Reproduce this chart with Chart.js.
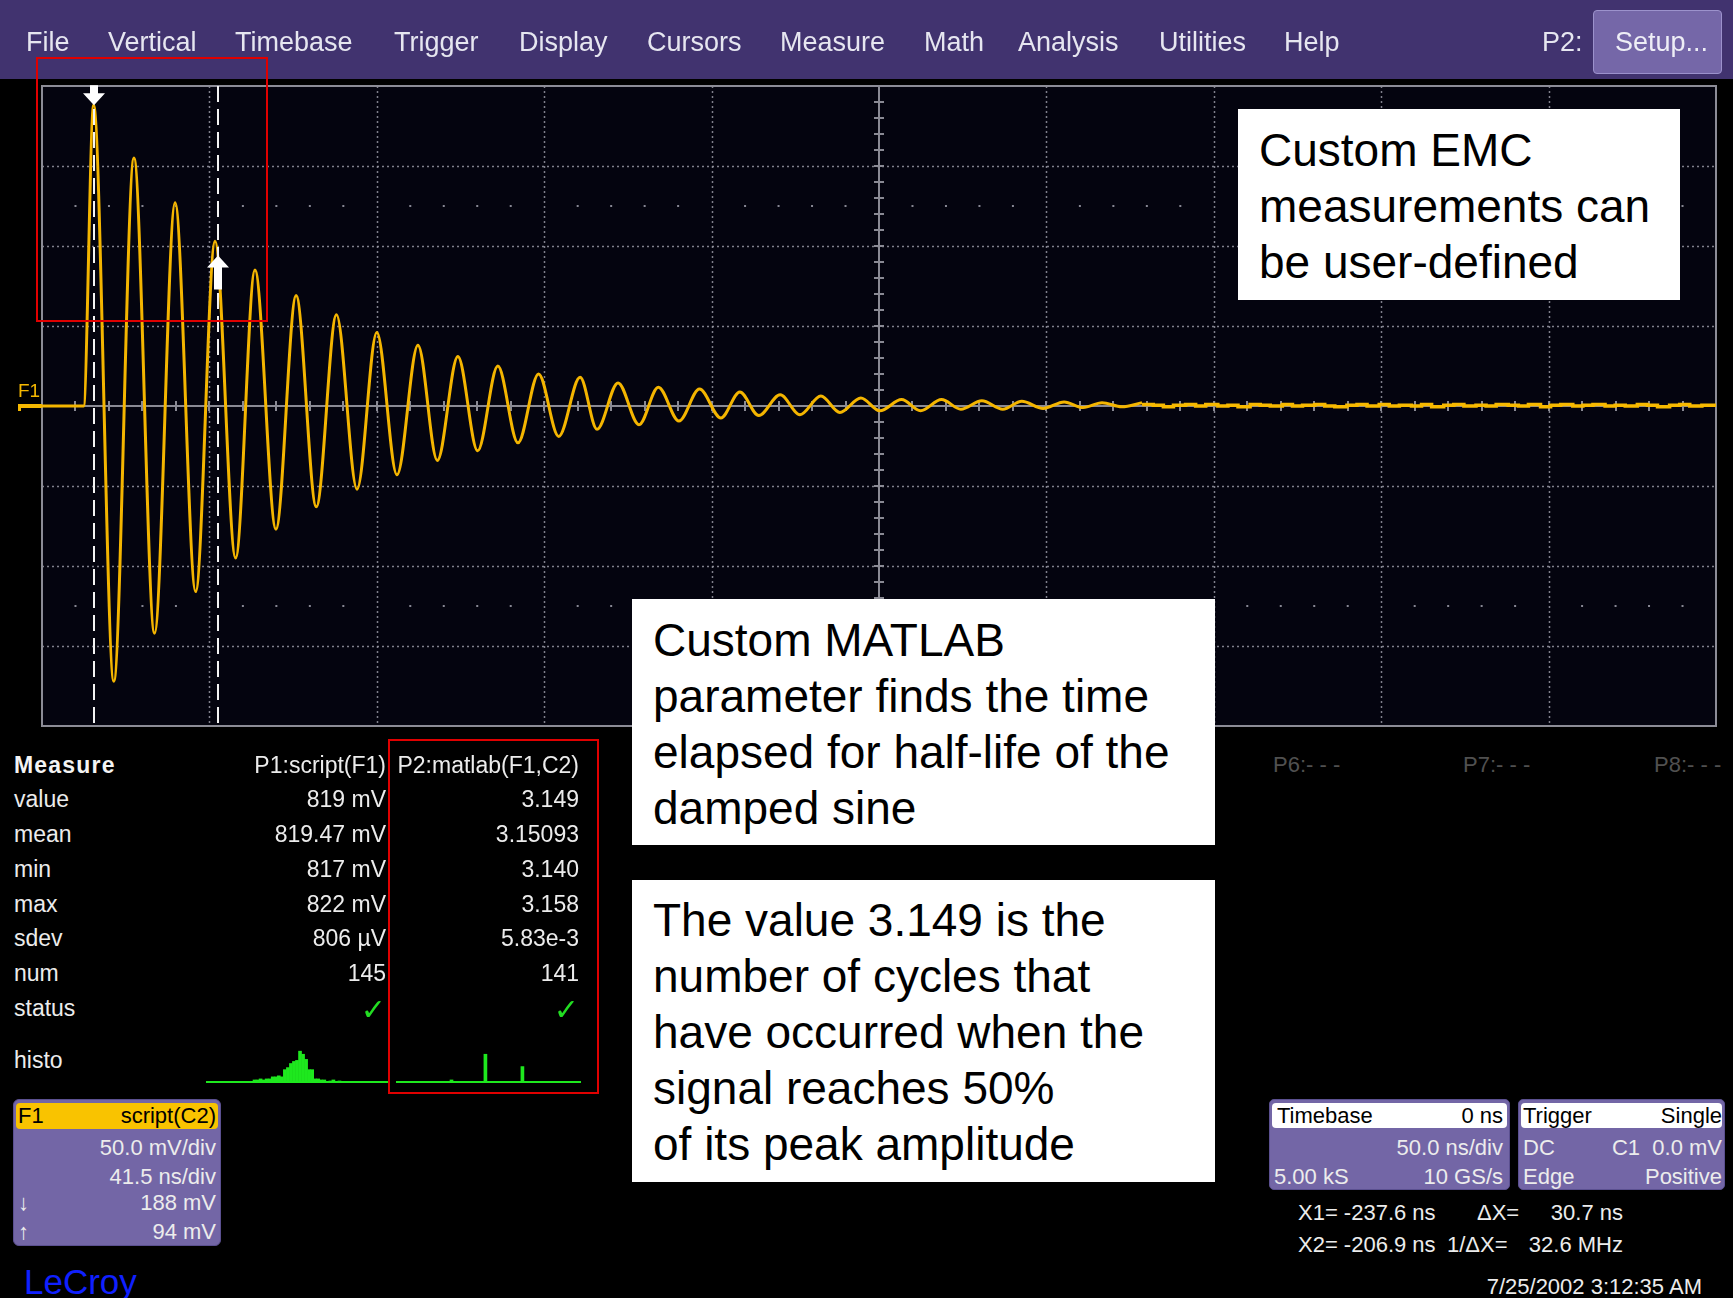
<!DOCTYPE html>
<html>
<head>
<meta charset="utf-8">
<title>F1 script(C2) - damped sine</title>
<script src="https://cdn.jsdelivr.net/npm/chart.js@4.4.1/dist/chart.umd.min.js"></script>
<style>
  html, body { margin: 0; padding: 0; background: #000; }
  #scr { position: relative; width: 1733px; height: 1298px; overflow: hidden; background: #000;
         font-family: "Liberation Sans", Arial, Helvetica, sans-serif; }
  #menubar { position: absolute; left: 0; top: 0; width: 1733px; height: 79px; background: #41336f; }
  #setup { position: absolute; left: 1593px; top: 10px; width: 129px; height: 64px; box-sizing: border-box;
           background: #7567a8; border: 1px solid #9c92cc; border-radius: 4px; }
  canvas { position: absolute; }
  .t { position: absolute; white-space: pre; line-height: 30px; height: 30px; }
  .box { position: absolute; box-sizing: border-box; background: #7366a6; border: 1px solid #5b5090; border-radius: 6px; }
  .hdr { position: absolute; box-sizing: border-box; border-radius: 4px; }
  .note { position: absolute; box-sizing: border-box; background: #fff; color: #000;
          font-size: 46px; line-height: 56px; white-space: nowrap; }
  .red { position: absolute; box-sizing: border-box; border: 2px solid #e00000; }
</style>
</head>
<body>
<div id="scr">
  <div id="menubar"></div>
  <div id="setup"></div>
  <canvas id="scope" width="1733" height="660" style="left:0;top:80px"></canvas>
  <canvas id="histP1" width="182" height="38" style="left:206px;top:1045px"></canvas>
  <canvas id="histP2" width="185" height="38" style="left:396px;top:1045px"></canvas>

  <div class="box" style="left:13px;top:1099px;width:208px;height:147px"></div>
  <div class="hdr" style="left:16px;top:1103px;width:202px;height:26px;background:#f9c300"></div>
  <div class="box" style="left:1269px;top:1099px;width:241px;height:91px;border-radius:5px"></div>
  <div class="hdr" style="left:1272px;top:1103px;width:235px;height:25px;background:#fff"></div>
  <div class="box" style="left:1518px;top:1099px;width:207px;height:91px;border-radius:5px"></div>
  <div class="hdr" style="left:1521px;top:1103px;width:201px;height:25px;background:#fff"></div>

  <div class="note" style="left:1238px;top:109px;width:442px;height:191px;padding:13px 0 0 21px">Custom EMC<br>measurements can<br>be user-defined</div>
  <div class="note" style="left:632px;top:599px;width:583px;height:246px;padding:13px 0 0 21px">Custom MATLAB<br>parameter finds the time<br>elapsed for half-life of the<br>damped sine</div>
  <div class="note" style="left:632px;top:880px;width:583px;height:302px;padding:12px 0 0 21px">The value 3.149 is the<br>number of cycles that<br>have occurred when the<br>signal reaches 50%<br>of its peak amplitude</div>

  <div class="red" style="left:36px;top:57px;width:232px;height:265px"></div>
  <div class="red" style="left:388px;top:739px;width:211px;height:355px"></div>
</div>

<script>
// F1 trace scale (from the F1 descriptor box)
const NS_PER_DIV = 41.5;
const MV_PER_DIV = 50;
const X_MIN = -250.5;   // ns at the left edge of the grid

// damped ringing: start, then alternating peaks/troughs (ns, mV)
const ringTimes = [-250.5, -240.2, -237.7, -232.7, -227.7, -222.6, -217.5, -212.4, -207.6, -202.5,
  -197.7, -192.5, -187.5, -182.5, -177.5, -172.4, -167.5, -162.5, -157.3, -152.5,
  -147.4, -142.5, -137.5, -132.5, -127.4, -122.4, -117.1, -112.9, -107.7, -102.5,
  -97.7, -92.6, -87.5, -82.2, -77.5, -72.8, -67.5, -62.6, -57.4, -52.7,
  -47.5, -42.8, -37.4, -32.7, -27.5, -22.7, -17.5, -12.3, -7.6, -2.3,
  2.9, 7.6, 12.3, 17.2, 22.2];
const ringValues = [0, 0, 188, -172, 155, -142, 127, -116, 103, -95,
  85, -77, 69, -63, 57, -52, 46, -43, 38, -34,
  31, -28, 25, -23, 20, -19, 18, -14.5, 14.4, -11.7,
  11.7, -9.4, 10.6, -7.5, 8.8, -6, 7, -5.4, 6.2, -4,
  5, -3, 4, -3, 4, -2, 3.3, -2, 3, -1.5,
  2.5, -1, 2, -0.5, 2];

// settled tail with sample noise (ns, mV)
const tailTimes = [22.2, 25, 27.5, 30, 33, 35.5, 38, 41, 43.5, 46, 49, 51.5, 54, 57, 59.5, 62,
  65, 67.5, 70, 73, 75.5, 78, 81, 83.5, 86, 89, 91.5, 94, 97, 99.5, 102, 105,
  107.5, 110, 113, 115.5, 118, 121, 123.5, 126, 129, 131.5, 134, 137, 139.5, 142,
  145, 147.5, 150, 153, 155.5, 158, 161, 164.5];
const tailValues = [1, 0.5, -0.5, 0.5, 1, 0, 1, 0, 0.5, -0.5, 1, 0.5, 0, 1, 0, 0.5,
  1, 0, -0.5, 0.5, 1, 0, 1, 0, 0.5, 0, 1, -0.5, 0.5, 1, 0, 0.5,
  0, 1, 0.5, 0, 1, -0.5, 0.5, 1, 0, 0.5, 1, 0, 0.5, 0, 1, 0.5,
  -0.5, 0.5, 1, 0, 0.5, 0.5];

// cursors: X1 / X2 times and the levels they read
const cursorTimes = [-237.6, -206.9];
const cursorLevels = [188, 94];

// parameter histograms (bin index, count)
const histP1Bins = [16, 17, 18, 19, 20, 21, 22, 23, 24, 25, 26, 27, 28, 29, 30, 31, 32, 33, 34, 35, 36, 37, 38, 39, 41, 42, 44];
const histP1Counts = [2, 2, 3, 2, 3, 3, 5, 5, 6, 5, 12, 14, 18, 20, 21, 30, 27, 22, 12, 12, 3, 3, 2, 2, 1, 2, 1];
const histP2Bins = [18, 29, 41];
const histP2Counts = [2, 27, 15];

// UI text
const menuItems = ['File', 'Vertical', 'Timebase', 'Trigger', 'Display', 'Cursors', 'Measure', 'Math', 'Analysis', 'Utilities', 'Help'];
const menuX = [26, 108, 235, 394, 519, 647, 780, 924, 1018, 1159, 1284];
const measureRows = ['value', 'mean', 'min', 'max', 'sdev', 'num', 'status'];
const p1Values = ['819 mV', '819.47 mV', '817 mV', '822 mV', '806 \u00b5V', '145', '\u2713'];
const p2Values = ['3.149', '3.15093', '3.140', '3.158', '5.83e-3', '141', '\u2713'];
const rowY = [799, 834, 869, 904, 938, 973, 1008];

const scr = document.getElementById('scr');
function put(text, x, y, o) {
  o = o || {};
  const el = document.createElement('div');
  el.className = 't';
  el.textContent = text;
  el.style.top = (y - 15) + 'px';
  if (o.right) el.style.right = (1733 - x) + 'px'; else el.style.left = x + 'px';
  el.style.fontSize = (o.size || 22) + 'px';
  el.style.color = o.color || '#ececec';
  if (o.bold) el.style.fontWeight = 'bold';
  if (o.ls) el.style.letterSpacing = o.ls + 'px';
  if (o.font) el.style.fontFamily = o.font;
  scr.appendChild(el);
  return el;
}

// menu
menuItems.forEach((m, i) => put(m, menuX[i], 42, { size: 27, color: '#e6e6f0' }));
put('P2:', 1542, 42, { size: 27, color: '#e6e6f0' });
put('Setup...', 1615, 42, { size: 27, color: '#eeeef6' });

// trace label
put('F1', 18, 391, { size: 19, color: '#f5b800' });

// measure table
put('Measure', 14, 765, { size: 23, bold: true, ls: 1.2, color: '#f4f4f4' });
put('P1:script(F1)', 386, 765, { size: 23, right: true });
put('P2:matlab(F1,C2)', 579, 765, { size: 23, right: true });
measureRows.forEach((r, i) => {
  put(r, 14, rowY[i], { size: 23 });
  const ok = measureRows[i] === 'status';
  const opt = ok ? { size: 30, right: true, bold: true, color: '#22dd22', font: 'DejaVu Sans' } : { size: 23, right: true };
  put(p1Values[i], 386, rowY[i] + (ok ? 2 : 0), opt);
  put(p2Values[i], 579, rowY[i] + (ok ? 2 : 0), opt);
});
put('histo', 14, 1060, { size: 23 });
put('P6:- - -', 1273, 765, { size: 22, color: '#505050' });
put('P7:- - -', 1463, 765, { size: 22, color: '#505050' });
put('P8:- - -', 1654, 765, { size: 22, color: '#505050' });

// F1 descriptor
put('F1', 18, 1116, { color: '#000' });
put('script(C2)', 216, 1116, { color: '#000', right: true });
put('50.0 mV/div', 216, 1148, { right: true });
put('41.5 ns/div', 216, 1177, { right: true });
put('\u2193', 18, 1203);
put('188 mV', 216, 1203, { right: true });
put('\u2191', 18, 1232);
put('94 mV', 216, 1232, { right: true });
put('LeCroy', 24, 1282, { size: 35, color: '#1020ff' });

// timebase / trigger
put('Timebase', 1277, 1116, { color: '#000' });
put('0 ns', 1503, 1116, { color: '#000', right: true });
put('50.0 ns/div', 1503, 1148, { right: true });
put('5.00 kS', 1274, 1177);
put('10 GS/s', 1503, 1177, { right: true });
put('Trigger', 1523, 1116, { color: '#000' });
put('Single', 1722, 1116, { color: '#000', right: true });
put('DC', 1523, 1148);
put('C1  0.0 mV', 1722, 1148, { right: true });
put('Edge', 1523, 1177);
put('Positive', 1722, 1177, { right: true });

// cursor readout
put('X1= -237.6 ns', 1298, 1213);
put('\u0394X=', 1477, 1213);
put('30.7 ns', 1623, 1213, { right: true });
put('X2= -206.9 ns', 1298, 1245);
put('1/\u0394X=', 1447, 1245);
put('32.6 MHz', 1623, 1245, { right: true });
put('7/25/2002 3:12:35 AM', 1702, 1287, { right: true });

// --- scope grid, cursors and markers ---
function arrow(ctx, px, tipY, dir, shaftL) {
  const headH = 12, headW = 11, shaftW = 4;
  ctx.beginPath();
  ctx.moveTo(px, tipY);
  ctx.lineTo(px - headW, tipY - dir * headH);
  ctx.lineTo(px - shaftW, tipY - dir * headH);
  ctx.lineTo(px - shaftW, tipY - dir * (headH + shaftL));
  ctx.lineTo(px + shaftW, tipY - dir * (headH + shaftL));
  ctx.lineTo(px + shaftW, tipY - dir * headH);
  ctx.lineTo(px + headW, tipY - dir * headH);
  ctx.closePath();
  ctx.fill();
}

const scopePlugin = {
  id: 'scopeGrid',
  beforeDatasetsDraw(chart) {
    const { ctx, chartArea: a, scales: { x, y } } = chart;
    ctx.save();
    ctx.fillStyle = '#04040f';
    ctx.fillRect(a.left, a.top, a.right - a.left, a.bottom - a.top);

    // dotted division lines
    ctx.strokeStyle = 'rgba(150,150,162,0.85)';
    ctx.lineWidth = 1.5;
    ctx.setLineDash([2, 3]);
    for (let k = 1; k < 10; k++) {
      if (k === 5) continue;
      const px = Math.round(x.getPixelForValue(X_MIN + k * NS_PER_DIV)) + 0.5;
      ctx.beginPath(); ctx.moveTo(px, a.top); ctx.lineTo(px, a.bottom); ctx.stroke();
    }
    for (let k = 1; k < 8; k++) {
      if (k === 4) continue;
      const py = Math.round(y.getPixelForValue(-4 * MV_PER_DIV + k * MV_PER_DIV)) + 0.5;
      ctx.beginPath(); ctx.moveTo(a.left, py); ctx.lineTo(a.right, py); ctx.stroke();
    }
    ctx.setLineDash([]);

    // sparse dot rows at +/- 2.5 div
    ctx.fillStyle = 'rgba(150,150,162,0.9)';
    [2.5, -2.5].forEach(d => {
      const py = y.getPixelForValue(d * MV_PER_DIV);
      for (let k = 1; k < 50; k++) {
        if (k % 5 === 0) continue;
        const px = x.getPixelForValue(X_MIN + k * NS_PER_DIV / 5);
        ctx.fillRect(px - 1, py - 1, 2, 2);
      }
    });

    // centre cross with minor ticks
    const cx = Math.round(x.getPixelForValue(X_MIN + 5 * NS_PER_DIV));
    const cy = Math.round(y.getPixelForValue(0));
    ctx.strokeStyle = '#8a8a94';
    ctx.lineWidth = 2;
    ctx.beginPath();
    ctx.moveTo(a.left, cy); ctx.lineTo(a.right, cy);
    ctx.moveTo(cx, a.top); ctx.lineTo(cx, a.bottom);
    for (let k = 1; k < 50; k++) {
      const px = Math.round(x.getPixelForValue(X_MIN + k * NS_PER_DIV / 5));
      ctx.moveTo(px, cy - 5); ctx.lineTo(px, cy + 5);
    }
    for (let k = 1; k < 40; k++) {
      const py = Math.round(y.getPixelForValue(-4 * MV_PER_DIV + k * MV_PER_DIV / 5));
      ctx.moveTo(cx - 5, py); ctx.lineTo(cx + 5, py);
    }
    ctx.stroke();

    // border
    ctx.strokeStyle = '#8c8c96';
    ctx.lineWidth = 2;
    ctx.strokeRect(a.left, a.top, a.right - a.left, a.bottom - a.top);
    ctx.restore();
  },
  afterDatasetsDraw(chart) {
    const { ctx, chartArea: a, scales: { x, y } } = chart;
    ctx.save();
    // cursors
    ctx.strokeStyle = '#f4f4f4';
    ctx.lineWidth = 2;
    ctx.setLineDash([16, 7]);
    cursorTimes.forEach(t => {
      const px = Math.round(x.getPixelForValue(t));
      ctx.beginPath(); ctx.moveTo(px, a.top); ctx.lineTo(px, a.bottom); ctx.stroke();
    });
    ctx.setLineDash([]);
    ctx.fillStyle = '#ffffff';
    arrow(ctx, Math.round(x.getPixelForValue(cursorTimes[0])), y.getPixelForValue(cursorLevels[0]), 1, 8);
    arrow(ctx, Math.round(x.getPixelForValue(cursorTimes[1])), y.getPixelForValue(cursorLevels[1]), -1, 22);

    // F1 ground marker left of the grid
    const gy = Math.round(y.getPixelForValue(0));
    ctx.fillStyle = '#f5b800';
    ctx.fillRect(18, gy - 2, 24, 4);
    ctx.fillRect(18, gy - 2, 3, 7);
    ctx.restore();
  }
};

new Chart(document.getElementById('scope'), {
  type: 'line',
  data: {
    datasets: [
      {
        data: ringTimes.map((t, i) => ({ x: t, y: ringValues[i] })),
        borderColor: '#f4b500',
        borderWidth: 3,
        cubicInterpolationMode: 'monotone',
        pointRadius: 0
      },
      {
        data: tailTimes.map((t, i) => ({ x: t, y: tailValues[i] })),
        borderColor: '#f7b900',
        borderWidth: 3.5,
        stepped: true,
        pointRadius: 0
      }
    ]
  },
  options: {
    responsive: false,
    animation: false,
    events: [],
    layout: { padding: { left: 42, top: 6, right: 17, bottom: 14 } },
    plugins: { legend: { display: false }, tooltip: { enabled: false } },
    scales: {
      x: { type: 'linear', display: false, min: X_MIN, max: X_MIN + 10 * NS_PER_DIV },
      y: { display: false, min: -4 * MV_PER_DIV, max: 4 * MV_PER_DIV }
    }
  },
  plugins: [scopePlugin]
});

// --- histograms ---
const histBase = {
  id: 'histBase',
  afterDatasetsDraw(chart) {
    const { ctx, chartArea: a, scales: { y } } = chart;
    const py = y.getPixelForValue(0);
    ctx.save();
    ctx.fillStyle = '#1ee81e';
    ctx.fillRect(a.left, py - 1, a.right - a.left, 2);
    ctx.restore();
  }
};

function histChart(id, bins, counts) {
  new Chart(document.getElementById(id), {
    type: 'bar',
    data: {
      datasets: [{
        data: bins.map((b, i) => ({ x: b, y: counts[i] })),
        backgroundColor: '#1ee81e',
        borderWidth: 0,
        barThickness: 3
      }]
    },
    options: {
      responsive: false,
      animation: false,
      events: [],
      layout: { padding: { left: 0, right: 0, top: 0, bottom: 1 } },
      plugins: { legend: { display: false }, tooltip: { enabled: false } },
      scales: {
        x: { type: 'linear', display: false, offset: false, min: 0, max: 60 },
        y: { display: false, min: 0, max: 36 }
      }
    },
    plugins: [histBase]
  });
}
histChart('histP1', histP1Bins, histP1Counts);
histChart('histP2', histP2Bins, histP2Counts);
</script>
</body>
</html>
